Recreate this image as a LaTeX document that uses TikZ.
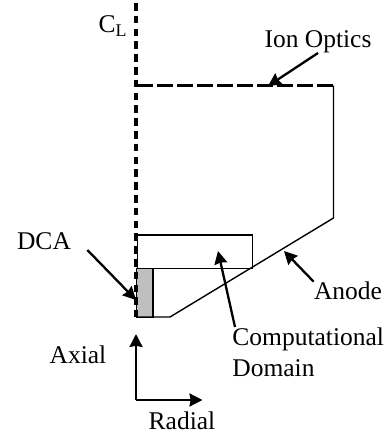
\documentclass[tikz,border=0pt]{standalone}
\usepackage{fontspec}
\setmainfont{Liberation Serif}
\usepackage{tikz}
\usetikzlibrary{arrows,positioning}
\usetikzlibrary{calc}
\usetikzlibrary{arrows.meta}

\begin{document}
\begin{tikzpicture}[x=0.5pt, y=-0.5pt]

\tikzstyle{label} = [inner sep=0pt, font=\fontsize{12.75}{14}\selectfont]
\tikzstyle{wall} = [line width=0.7pt]
\tikzstyle{centre} = [line width=1.6pt, dash pattern=on 3.8pt off 2.6pt]
\tikzstyle{grid} = [line width=1.8pt, dash pattern=on 7.8pt off 2.2pt]
\tikzstyle{arrow} = [line width=1.15pt,-{Stealth[length=6.5pt,width=6.5pt,inset=0.6pt]}]

\useasboundingbox (0,0) rectangle (386,437);

\coordinate (top) at (136,3);
\coordinate (axis) at (136,317);
\coordinate (gridl) at (137,85.7);
\coordinate (gridr) at (333.5,85.7);
\coordinate (corner) at (333.5,218);
\coordinate (throat) at (170,317);
\coordinate (origin) at (136,400);
\coordinate (axialtip) at (136,334);
\coordinate (radialtip) at (202.5,400);

\node (domain) [rectangle, draw, line width=0.55pt, anchor=north west, minimum width=57.5pt, minimum height=16.6pt, inner sep=0pt] at (136.5,234.5) {};
\node (dcabody) [rectangle, draw, fill=black!25, line width=0.55pt, anchor=north west, minimum width=8.2pt, minimum height=24.6pt, inner sep=0pt] at (136,267.7) {};

\draw [wall] (gridr) -- (corner) -- (throat) -- (axis);
\draw [grid] (gridl) -- (gridr);
\draw [centre] (top) -- (axis);

\node (cl) [label] at (113,26) {C\textsubscript{L}};
\node (ion) [label] at (318,42) {Ion Optics};
\node (dca) [label] at (44,241) {DCA};
\node (anode) [label] at (348,291) {Anode};
\node (comp) [label, anchor=west] at (232,339) {Computational};
\node (dom) [label, anchor=west] at (232,368) {Domain};
\node (axial) [label] at (78,355) {Axial};
\node (radial) [label] at (182,421) {Radial};

\coordinate (iontip) at (268,86);
\coordinate (dcatip) at (136,300);
\coordinate (domtip) at (218,251);
\coordinate (anodetip) at (284,251);

\draw [arrow] (318,53) -- (iontip);
\draw [arrow] ($(dca.south east)+(16,0)$) -- (dcatip);
\draw [arrow] (comp.north west)+(3,0) -- (domtip);
\draw [arrow] (anode.north west) -- (anodetip);
\draw [arrow] (origin) -- (axialtip);
\draw [arrow] (origin) -- (radialtip);
\end{tikzpicture}
\end{document}
